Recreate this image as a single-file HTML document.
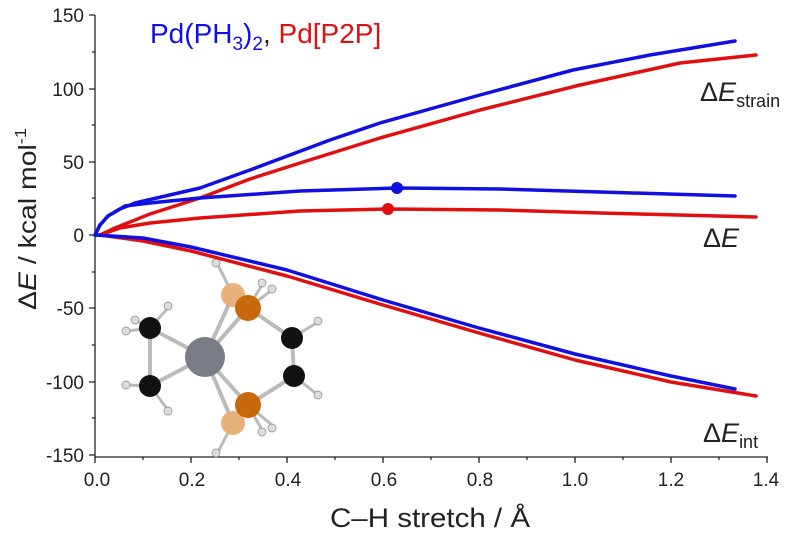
<!DOCTYPE html>
<html><head><meta charset="utf-8"><style>
body{margin:0;background:#fff}
svg{display:block;font-family:"Liberation Sans",sans-serif}
</style></head><body>
<svg width="800" height="555" viewBox="0 0 800 555">
<g stroke="#222" stroke-width="1.3" fill="none">
<line x1="95" y1="15" x2="95" y2="457"/>
<line x1="95" y1="457" x2="768" y2="457"/>
<path d="M89 15H95M89 89H95M89 162H95M89 235H95M89 308H95M89 382H95M89 455H95"/>
<path d="M92 52H95M92 125H95M92 198H95M92 272H95M92 345H95M92 418H95"/>
<path d="M95 457V463M191 457V463M287 457V463M383 457V463M479 457V463M575 457V463M671 457V463M767 457V463"/>
<path d="M143 457V460M239 457V460M335 457V460M431 457V460M527 457V460M623 457V460M719 457V460"/>
</g>
<g font-size="19" fill="#222" text-anchor="end">
<text x="84" y="22">150</text><text x="84" y="96">100</text><text x="84" y="169">50</text><text x="84" y="242">0</text><text x="84" y="315">-50</text><text x="84" y="389">-100</text><text x="84" y="462">-150</text>
</g>
<g font-size="19" fill="#222" text-anchor="middle">
<text x="97" y="486">0.0</text><text x="192" y="486">0.2</text><text x="288" y="486">0.4</text><text x="384" y="486">0.6</text><text x="480" y="486">0.8</text><text x="575" y="486">1.0</text><text x="671" y="486">1.2</text><text x="766" y="486">1.4</text>
</g>
<text x="330" y="527" font-size="27" fill="#222" textLength="200" lengthAdjust="spacingAndGlyphs">C–H stretch / Å</text>
<text transform="translate(36,310) rotate(-90)" font-size="25" fill="#222" textLength="182" lengthAdjust="spacingAndGlyphs">Δ<tspan font-style="italic">E</tspan> / kcal mol<tspan font-size="16" dy="-10">-1</tspan></text>
<text x="150" y="43" font-size="28"><tspan fill="#1010e0">Pd(PH<tspan font-size="19" dy="7">3</tspan><tspan dy="-7">)</tspan><tspan font-size="19" dy="7">2</tspan></tspan><tspan dy="-7" fill="#222">, </tspan><tspan fill="#e01010">Pd[P2P]</tspan></text>
<g font-size="27" fill="#222">
<text x="700" y="101">Δ<tspan font-style="italic">E</tspan><tspan font-size="18" dy="6">strain</tspan></text>
<text x="703" y="247">Δ<tspan font-style="italic">E</tspan></text>
<text x="703" y="442">Δ<tspan font-style="italic">E</tspan><tspan font-size="18" dy="6">int</tspan></text>
</g>
<!-- molecule -->
<g stroke="#bbb" stroke-width="4" fill="none">
<path d="M150 328L150 386M150 328L205 357M150 386L205 357M205 357L248 308M205 357L233 295M205 357L248 405M205 357L233 423M248 308L292 338L294 376L248 405"/>
<path stroke-width="3" d="M150 328L135 320M150 328L128 331M150 328L168 308M150 386L128 385M150 386L168 410M233 295L218 265M248 308L262 285M248 308L272 290M233 423L218 452M248 405L262 430M248 405L272 425M292 338L318 322M294 376L318 395"/>
</g>
<g fill="#ddd" stroke="#888" stroke-width="0.7">
<circle cx="135" cy="320" r="4"/><circle cx="126" cy="331" r="4"/><circle cx="168" cy="306" r="4"/><circle cx="126" cy="385" r="4"/><circle cx="168" cy="411" r="4"/><circle cx="216" cy="263" r="4"/><circle cx="262" cy="283" r="4"/><circle cx="272" cy="289" r="4"/><circle cx="216" cy="453" r="4"/><circle cx="262" cy="432" r="4"/><circle cx="272" cy="428" r="4"/><circle cx="318" cy="321" r="4"/><circle cx="318" cy="395" r="4"/>
</g>
<circle cx="233" cy="295" r="12" fill="#e8b07a"/><circle cx="233" cy="423" r="12" fill="#e8b07a"/>
<circle cx="205" cy="357" r="20" fill="#7a7d85"/>
<circle cx="248" cy="308" r="13" fill="#c8680c"/><circle cx="248" cy="405" r="13" fill="#c8680c"/>
<circle cx="150" cy="328" r="11" fill="#111"/><circle cx="150" cy="386" r="11" fill="#111"/><circle cx="292" cy="338" r="11" fill="#111"/><circle cx="294" cy="376" r="11" fill="#111"/>
<!-- curves -->
<g fill="none" stroke-width="3.5" stroke-linejoin="round" stroke-linecap="round">
<polyline stroke="#e01010" points="100,235 115,228 150,214 200,198 250,179 300,163 380,138 480,110 580,85 680,63 756,55"/>
<polyline stroke="#1010e0" points="95,235 100,225 108,216 120,209 135,203 200,188 250,170 330,140 380,123 480,95 573,70 650,55 735,41"/>
<polyline stroke="#e01010" points="100,235 120,228 150,223 200,218 300,211 387,209 500,210 600,213 756,217"/>
<polyline stroke="#1010e0" points="95,235 100,225 108,216 125,206 150,203 200,198 300,191 397,188 500,189 600,192 735,196"/>
<polyline stroke="#e01010" points="100,235 143,241 191,251 287,276 383,305 479,333 575,360 671,382 756,396"/>
<polyline stroke="#1010e0" points="95,235 143,238 191,247 287,270 383,300 479,328 575,354 671,376 735,389"/>
</g>
<circle cx="397" cy="188" r="6" fill="#1010e0"/>
<circle cx="388" cy="209" r="6" fill="#e01010"/>
</svg>
</body></html>
